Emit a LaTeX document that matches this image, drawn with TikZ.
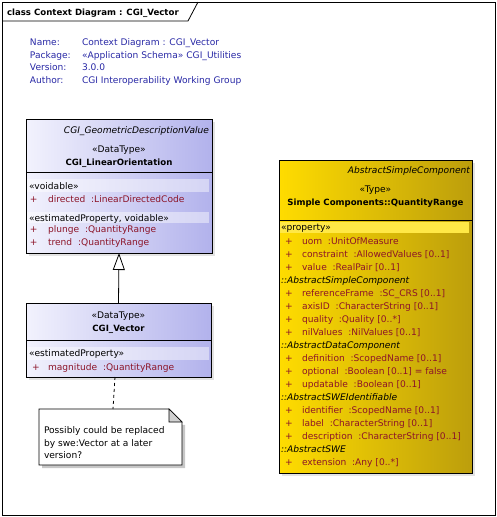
\documentclass[tikz,border=0pt]{standalone}
\usepackage{fontspec}
\setmainfont{DejaVu Sans}
\usetikzlibrary{arrows.meta,shadows,calc}
\definecolor{hdrblue}{RGB}{40,40,165}
\definecolor{attr}{RGB}{140,20,40}
\definecolor{lavA}{RGB}{242,242,253}
\definecolor{lavB}{RGB}{178,178,236}
\definecolor{yelA}{RGB}{255,220,0}
\definecolor{yelB}{RGB}{188,158,12}
\definecolor{yelband}{RGB}{255,232,70}
\newcommand{\fsz}{\fontsize{9.1}{10}\selectfont}
\newcommand{\fbd}{\fontsize{8.6}{10}\selectfont\bfseries}
\begin{document}
\begin{tikzpicture}[x=1pt,y=-1pt,font=\fsz,inner sep=0pt,outer sep=0pt,
  cls/.style={draw=black,line width=0.8pt,anchor=north west,
    drop shadow={shadow xshift=3pt,shadow yshift=-3pt,fill=black!22}},
  txt/.style={anchor=base west},
  hdr/.style={anchor=base west,text=hdrblue},
  attrtxt/.style={anchor=base west,text=attr},
  ctr/.style={anchor=base},
  lavband/.style={fill=white,fill opacity=0.45},
  ]
\useasboundingbox (0,0) rectangle (497,517);
% frame
\draw[line width=0.8pt] (2,2) rectangle (495,515);
\draw[line width=0.8pt] (2,21) -- (188,21) -- (198,2);
\node[txt,font=\fbd] (title) at (7,15) {class Context Diagram : CGI\_Vector};
% header info
\node[hdr] (n1) at (30,45) {Name:};
\node[hdr] (n2) at (30,58) {Package:};
\node[hdr] (n3) at (30,70) {Version:};
\node[hdr] (n4) at (30,83) {Author:};
\node[hdr] (v1) at (82,45) {Context Diagram : CGI\_Vector};
\node[hdr] (v2) at (82,58) {«Application Schema» CGI\_Utilities};
\node[hdr] (v3) at (82,70) {3.0.0};
\node[hdr] (v4) at (82,83) {CGI Interoperability Working Group};
% box 1
\node[cls,left color=lavA,right color=lavB,minimum width=186pt,minimum height=134pt] (lo) at (26,119) {};
\draw[line width=0.8pt] ($(lo.north west)+(0,53)$) -- ($(lo.north east)+(0,53)$);
\fill[lavband] (27,179) rectangle (209,192);
\fill[lavband] (27,212) rectangle (209,223);
\node[anchor=base east,font=\fsz\itshape] (lop) at (209,133) {CGI\_GeometricDescriptionValue};
\node[ctr] (los) at (119,152) {«DataType»};
\node[ctr,font=\fbd] (lon) at (119,165) {CGI\_LinearOrientation};
\node[txt] (lg1) at (29,189) {«voidable»};
\node[attrtxt] (la1p) at (30,202) {+};
\node[attrtxt] (la1) at (48,202) {directed~ :LinearDirectedCode};
\node[txt] (lg2) at (29,221) {«estimatedProperty, voidable»};
\node[attrtxt] (la2p) at (30,232) {+};
\node[attrtxt] (la2) at (48,232) {plunge~ :QuantityRange};
\node[attrtxt] (la3p) at (30,245) {+};
\node[attrtxt] (la3) at (48,245) {trend~ :QuantityRange};
% box 2
\node[cls,left color=lavA,right color=lavB,minimum width=185pt,minimum height=74pt] (vec) at (26,303) {};
\draw[line width=0.8pt] ($(vec.north west)+(0,37)$) -- ($(vec.north east)+(0,37)$);
\fill[lavband] (27,347) rectangle (209,360);
\node[ctr] (vs) at (118.5,318) {«DataType»};
\node[ctr,font=\fbd] (vn) at (118.5,331) {CGI\_Vector};
\node[txt] (vg1) at (29,356) {«estimatedProperty»};
\node[attrtxt] (va1p) at (32,370) {+};
\node[attrtxt] (va1) at (48,370) {magnitude~ :QuantityRange};
% generalization
\draw[line width=0.8pt,-{Triangle[open,fill=white,width=12pt,length=17pt]}] (vec.north) -- (lo.south);
% note
\node[anchor=north west,minimum width=143pt,minimum height=56pt] (note) at (39,409) {};
\fill[black!22] ($(note.north west)+(3,3)$) -- ($(note.north east)+(3,16)$) -- ($(note.south east)+(3,3)$) -- ($(note.south west)+(3,3)$) -- cycle;
\filldraw[fill=white,draw=black,line width=0.8pt] (note.north west) -- ($(note.north east)+(-13,0)$) -- ($(note.north east)+(0,13)$) -- (note.south east) -- (note.south west) -- cycle;
\filldraw[fill=black!18,draw=black,line width=0.6pt] ($(note.north east)+(-13,0)$) -- ($(note.north east)+(-13,13)$) -- ($(note.north east)+(0,13)$) -- cycle;
\node[txt] (nt1) at (44,433) {Possibly could be replaced};
\node[txt] (nt2) at (44,446) {by swe:Vector at a later};
\node[txt] (nt3) at (44,458) {version?};
\coordinate (dtop) at (115,377);
\coordinate (dref) at (113,0);
\draw[line width=0.8pt,dash pattern=on 3pt off 3pt] (dtop) -- (dref |- note.north);
% box 3
\node[cls,left color=yelA,right color=yelB,minimum width=193pt,minimum height=313pt] (qr) at (279,160) {};
\draw[line width=0.8pt] ($(qr.north west)+(0,60)$) -- ($(qr.north east)+(0,60)$);
\fill[yelband] (280,222) rectangle (469,233);
\node[anchor=base east,font=\fsz\itshape] (qrp) at (470,173) {AbstractSimpleComponent};
\node[ctr] (qrs) at (375.5,192) {«Type»};
\node[ctr,font=\fbd] (qrn) at (375.5,205) {Simple Components::QuantityRange};
\node[txt] (qg0) at (281,230) {«property»};
\foreach \i/\yy/\t in {1/244/{uom~ :UnitOfMeasure},2/257/{constraint~ :AllowedValues [0..1]},3/270/{value~ :RealPair [0..1]},
  5/296/{referenceFrame~ :SC\_CRS [0..1]},6/309/{axisID~ :CharacterString [0..1]},7/322/{quality~ :Quality [0..*]},8/335/{nilValues~ :NilValues [0..1]},
  10/361/{definition~ :ScopedName [0..1]},11/374/{optional~ :Boolean [0..1] = false},12/387/{updatable~ :Boolean [0..1]},
  14/413/{identifier~ :ScopedName [0..1]},15/426/{label~ :CharacterString [0..1]},16/439/{description~ :CharacterString [0..1]},
  18/465/{extension~ :Any [0..*]}}{
  \node[attrtxt] (qp\i) at (285,\yy) {+};
  \node[attrtxt] (qa\i) at (302,\yy) {\t};
}
\foreach \i/\yy/\t in {4/283/{::AbstractSimpleComponent},9/348/{::AbstractDataComponent},13/400/{::AbstractSWEIdentifiable},17/452/{::AbstractSWE}}{
  \node[txt,font=\fsz\itshape] (qg\i) at (281,\yy) {\t};
}
\end{tikzpicture}
\end{document}
